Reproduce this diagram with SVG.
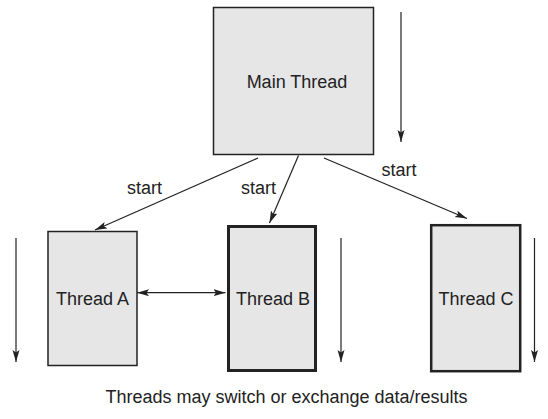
<svg xmlns="http://www.w3.org/2000/svg" width="548" height="419" viewBox="0 0 548 419">
<style>
.box{fill:#e6e6e6;stroke:#222;stroke-width:1.5}
.thick{stroke-width:3}
.mid{stroke-width:2.5}
.lbl{font-family:"Liberation Sans",Arial,sans-serif;font-size:18px;fill:#222;text-anchor:middle}
.ln{stroke:#222;stroke-width:1.2;fill:none}
</style>
<defs>
<marker id="ah" markerUnits="userSpaceOnUse" markerWidth="13" markerHeight="8" refX="12" refY="3.5" orient="auto-start-reverse">
<path d="M0,0 L12,3.5 L0,7 L2.5,3.5 z" fill="#222"/>
</marker>
</defs>
<rect width="548" height="419" fill="#fff"/>
<g id="main-thread">
<rect class="box" x="213.5" y="7.5" width="160" height="147"/>
<text class="lbl" x="297" y="88">Main Thread</text>
</g>
<g id="thread-a">
<rect class="box" x="48" y="231.5" width="89" height="134"/>
<text class="lbl" x="92.5" y="305">Thread A</text>
</g>
<g id="thread-b">
<rect class="box thick" x="228.5" y="226.5" width="87" height="144"/>
<text class="lbl" x="273" y="305">Thread B</text>
</g>
<g id="thread-c">
<rect class="box mid" x="431.2" y="225.2" width="89" height="146"/>
<text class="lbl" x="476" y="305">Thread C</text>
</g>
<g id="connectors">
<line class="ln" x1="401" y1="12" x2="401" y2="142" marker-end="url(#ah)"/>
<line class="ln" x1="16" y1="238" x2="16" y2="362" marker-end="url(#ah)"/>
<line class="ln" x1="341" y1="238" x2="341" y2="362" marker-end="url(#ah)"/>
<line class="ln" x1="534.5" y1="238" x2="534.5" y2="362" marker-end="url(#ah)"/>
<line class="ln" x1="258" y1="158" x2="95" y2="230" marker-end="url(#ah)"/>
<line class="ln" x1="298.5" y1="155.5" x2="269.5" y2="223" marker-end="url(#ah)"/>
<line class="ln" x1="324" y1="158" x2="467" y2="218.5" marker-end="url(#ah)"/>
<line class="ln" x1="137" y1="292.7" x2="225.5" y2="292.7" marker-start="url(#ah)" marker-end="url(#ah)"/>
<text class="lbl" x="144.5" y="193.5">start</text>
<text class="lbl" x="258.5" y="193.5">start</text>
<text class="lbl" x="399" y="176">start</text>
</g>
<text class="lbl" x="286.5" y="403">Threads may switch or exchange data/results</text>
</svg>
